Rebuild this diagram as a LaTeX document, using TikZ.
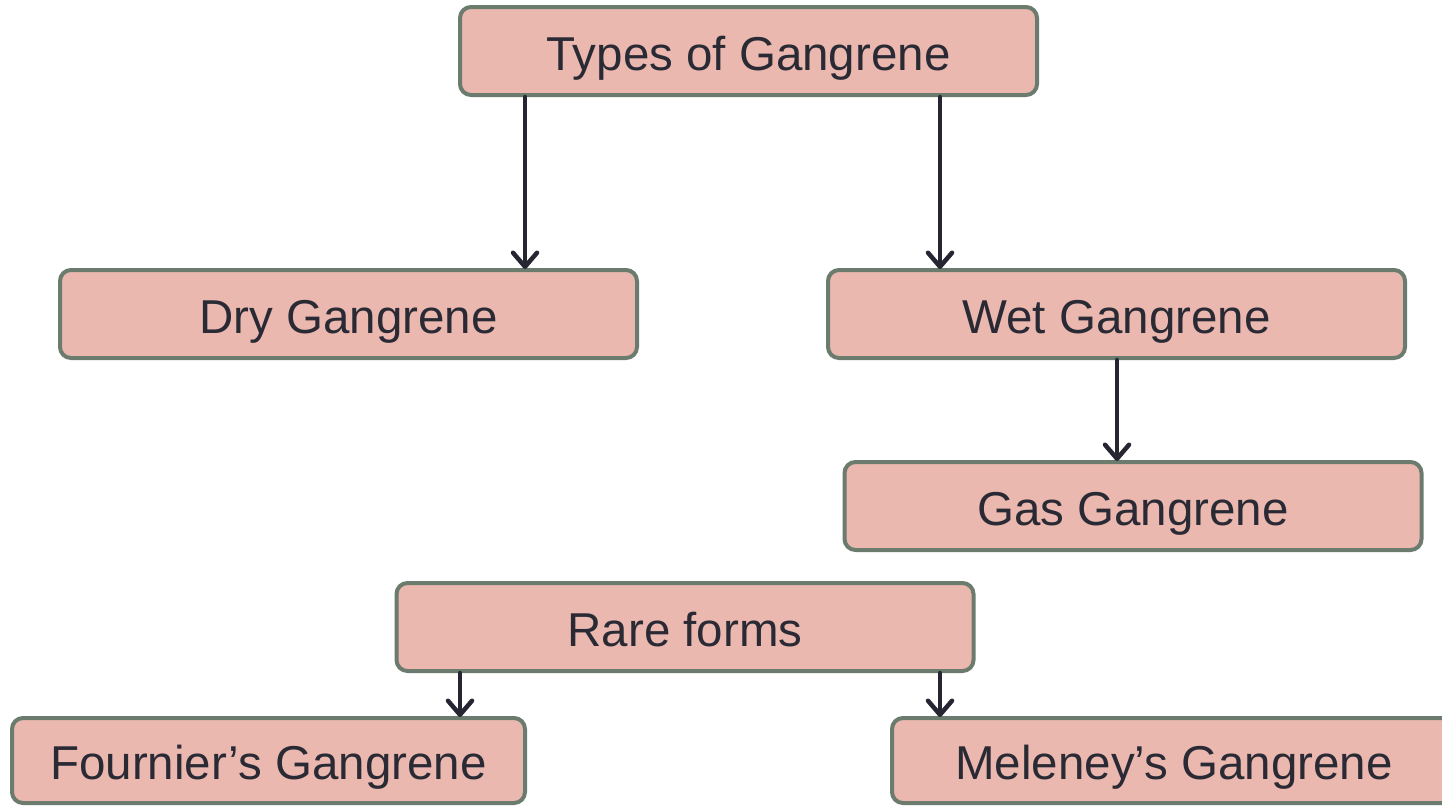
\documentclass[tikz,border=0pt]{standalone}
\usepackage{fontspec}
\setmainfont{Liberation Sans}
\usetikzlibrary{arrows.meta}
\definecolor{boxfill}{HTML}{EBB8B0}
\definecolor{boxline}{HTML}{6B7B6E}
\definecolor{arrcol}{HTML}{262633}
\definecolor{txtcol}{HTML}{2A2A35}
\begin{document}
\begin{tikzpicture}[x=1pt,y=-1pt,
  box/.style={draw=boxline, line width=4pt, fill=boxfill, rounded corners=11pt,
    minimum width=577pt, minimum height=88pt, inner sep=0pt, text=txtcol,
    text height=40pt, text depth=2pt,
    font=\fontsize{47.5}{50}\selectfont, anchor=center},
  arr/.style={draw=arrcol, line width=4.5pt, line cap=round,
    -{Straight Barb[length=14pt,width=24pt,line width=4.5pt,round]}}]
\useasboundingbox (0,0) rectangle (1442,806);
\node[box] (types) at (748.5,51) {Types of Gangrene};
\node[box] (dry) at (348.5,314) {Dry Gangrene};
\node[box] (wet) at (1116.5,314) {Wet Gangrene};
\node[box] (gas) at (1133,506) {Gas Gangrene};
\node[box] (rare) at (685,627) {Rare forms};
\node[box, minimum width=513pt, minimum height=85pt] (fournier) at (268.5,760.5) {Fournier’s Gangrene};
\node[box, minimum width=564pt, minimum height=85pt] (meleney) at (1174,760.5) {Meleney’s Gangrene};
\coordinate (a1) at (525,0);
\coordinate (a2) at (940,0);
\coordinate (a3) at (1117,0);
\coordinate (a4) at (460,0);
\coordinate (a5) at (940,0);
\draw[arr] (types.south -| a1) -- ([yshift=-1pt]dry.north -| a1);
\draw[arr] (types.south -| a2) -- ([yshift=-1pt]wet.north -| a2);
\draw[arr] (wet.south -| a3) -- ([yshift=-1pt]gas.north -| a3);
\draw[arr] (rare.south -| a4) -- ([yshift=-1pt]fournier.north -| a4);
\draw[arr] (rare.south -| a5) -- ([yshift=-1pt]meleney.north -| a5);
\end{tikzpicture}
\end{document}
